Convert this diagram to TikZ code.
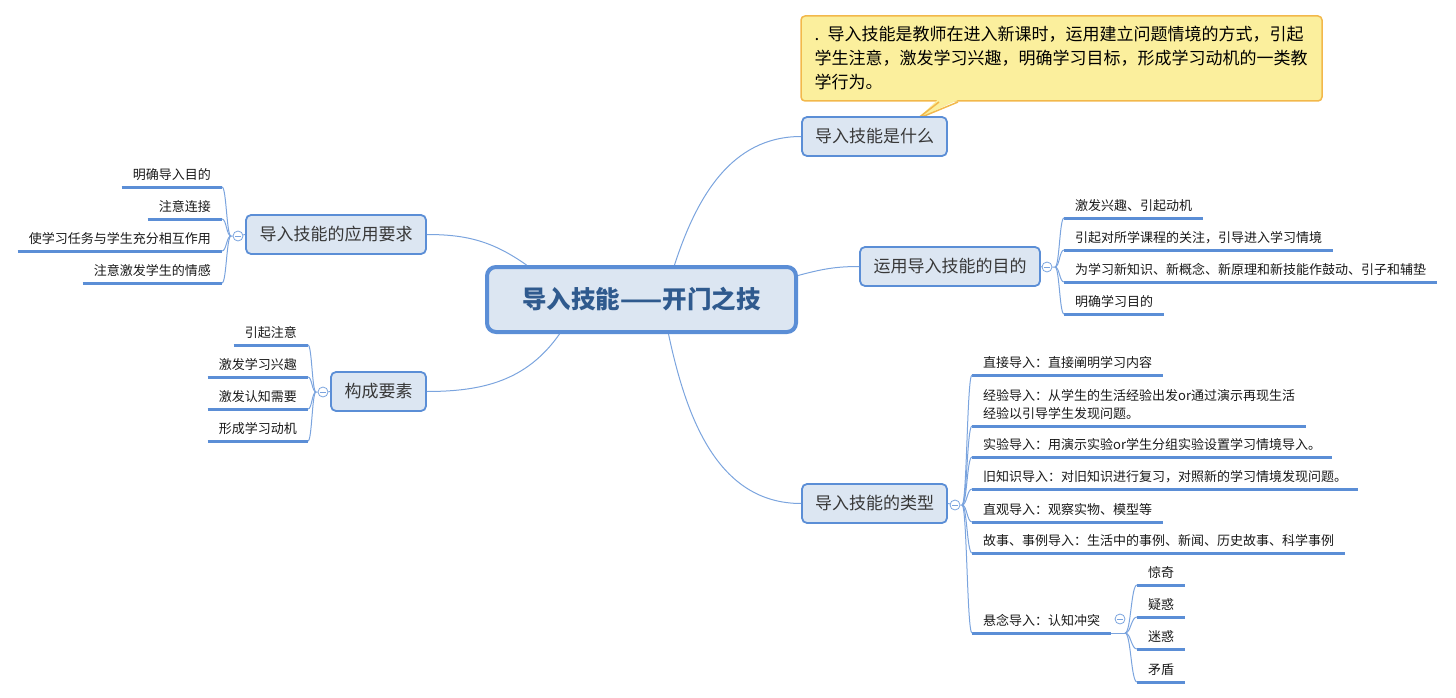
\documentclass[tikz,border=0pt]{standalone}
\usepackage{fontspec}
\setmainfont{Noto Sans CJK SC}
\usetikzlibrary{calc}
\definecolor{mmblue}{HTML}{5B8ED6}
\definecolor{mmfill}{HTML}{DCE6F2}
\definecolor{mmlink}{HTML}{7BA4DE}
\definecolor{mmdark}{HTML}{2F5A8E}
\definecolor{notefill}{HTML}{FBEF9D}
\definecolor{noteedge}{HTML}{F2B84B}

\begin{document}
\begin{tikzpicture}[
    x=1pt,y=-1pt,
    central/.style={draw=mmblue,fill=mmfill,line width=4pt,rounded corners=9pt,minimum width=309pt,minimum height=65pt,inner sep=0pt,text=mmdark,font=\fontsize{24.5}{28}\selectfont\bfseries},
    topic/.style={draw=mmblue,fill=mmfill,line width=1.8pt,rounded corners=5pt,minimum height=39pt,inner sep=0pt,text=black!78,font=\fontsize{17}{20}\selectfont},
    leaf/.style={inner xsep=11pt,inner ysep=4.5pt,text height=10pt,text depth=3pt,text=black!90,font=\fontsize{13}{18}\selectfont},
    leafr/.style={leaf,anchor=south west},
    leafl/.style={leaf,anchor=south east},
    uline/.style={draw=mmblue,line width=3pt},
    link/.style={draw=mmlink,line width=1pt},
    twig/.style={draw=mmlink,line width=1pt,
      to path={let \p1=(\tikztostart), \p2=(\tikztotarget) in
        .. controls ({(\x1+\x2)/2},\y1) and ({(\x1+\x2)/2},\y2) .. (\tikztotarget)}},
    fold/.style={circle,draw=mmlink,fill=white,line width=0.8pt,minimum size=10pt,inner sep=0pt,
      path picture={\draw[mmlink,line width=0.8pt] ([xshift=2pt]path picture bounding box.west) -- ([xshift=-2pt]path picture bounding box.east);}},
    note/.style={draw=noteedge,fill=notefill,line width=1.5pt,rounded corners=4pt,minimum height=85pt,text width=494pt,align=left,inner xsep=13.5pt,font=\fontsize{17}{24}\selectfont}
  ]
    \useasboundingbox (0,0) rectangle (1456,698);

    \node[note] (def) at (1061.5,58.5) {. 导入技能是教师在进入新课时，运用建立问题情境的方式，引起\\学生注意，激发学习兴趣，明确学习目标，形成学习动机的一类教\\学行为。};
    \coordinate (tip) at (917,119);
    \fill[notefill] (938,99.5) -- (tip) -- (959,99.5) -- cycle;
    \draw[noteedge,line width=1.5pt,line join=round] (939,102) -- (tip) -- (958,102);

    \node[central] (central) at (641.5,299.5) {导入技能——开门之技};

    \node[topic,minimum width=145pt] (what) at (874.5,136.5) {导入技能是什么};
    \node[topic,minimum width=180pt] (purpose) at (950,266.5) {运用导入技能的目的};
    \node[topic,minimum width=145pt] (types) at (874.5,503.5) {导入技能的类型};
    \node[topic,minimum width=180pt] (require) at (336,234.5) {导入技能的应用要求};
    \node[topic,minimum width=95pt] (elements) at (378.5,391.5) {构成要素};

    \draw[link] ([xshift=33pt]central.north) to[out=72,in=180] (what.west);
    \draw[link] ([yshift=24pt]central.east) to[out=15,in=180] (purpose.west);
    \draw[link] ([xshift=27pt]central.south) to[out=-78,in=180] (types.west);
    \draw[link] ([xshift=-115pt]central.north) to[out=145,in=0] (require.east);
    \draw[link] ([xshift=-82pt]central.south) to[out=-125,in=0] (elements.east);

    \node[fold] (fPurpose) at (1047,267) {};
    \node[fold] (fTypes) at (955,505) {};
    \node[fold] (fSusp) at (1120,619) {};
    \node[fold] (fRequire) at (238,236) {};
    \node[fold] (fElements) at (323,392) {};
    \coordinate (jPurpose) at (1055,267);
    \coordinate (jTypes) at (962,505);
    \coordinate (jSusp) at (1125,633);
    \coordinate (jRequire) at (231,236);
    \coordinate (jElements) at (316,392);
    \draw[link] (purpose.east) -- (fPurpose) -- (jPurpose);
    \draw[link] (types.east) -- (fTypes) -- (jTypes);
    \draw[link] (require.west) -- (fRequire) -- (jRequire);
    \draw[link] (elements.west) -- (fElements) -- (jElements);

    \foreach \y/\nm/\t in {218/p1/激发兴趣、引起动机,
                          250/p2/引起对所学课程的关注，引导进入学习情境,
                          282/p3/为学习新知识、新概念、新原理和新技能作鼓动、引子和辅垫,
                          314/p4/明确学习目的} {
      \node[leafr] (\nm) at (1064,\y) {\t};
    }

    \foreach \y/\nm/\t in {375/t1/直接导入：直接阐明学习内容,
                          457/t3/实验导入：用演示实验or学生分组实验设置学习情境导入。,
                          489/t4/旧知识导入：对旧知识进行复习，对照新的学习情境发现问题。,
                          522/t5/直观导入：观察实物、模型等,
                          553/t6/故事、事例导入：生活中的事例、新闻、历史故事、科学事例,
                          633/t7/悬念导入：认知冲突} {
      \node[leafr] (\nm) at (972,\y) {\t};
    }
    \node[leafr,align=left] (t2) at (972,426) {经验导入：从学生的生活经验出发or通过演示再现生活\\经验以引导学生发现问题。};

    \foreach \y/\nm/\t in {585/s1/惊奇, 617/s2/疑惑, 649/s3/迷惑, 682/s4/矛盾} {
      \node[leafr] (\nm) at (1137,\y) {\t};
    }

    \foreach \y/\nm/\t in {187/r1/明确导入目的, 219/r2/注意连接,
                          251/r3/使学习任务与学生充分相互作用, 283/r4/注意激发学生的情感} {
      \node[leafl] (\nm) at (222,\y) {\t};
    }

    \foreach \y/\nm/\t in {345/e1/引起注意, 377/e2/激发学习兴趣, 409/e3/激发认知需要, 441/e4/形成学习动机} {
      \node[leafl] (\nm) at (308,\y) {\t};
    }

    \foreach \nm in {p1,p2,p3,p4,t1,t2,t3,t4,t5,t6,t7,s1,s2,s3,s4,r1,r2,r3,r4,e1,e2,e3,e4} {
      \draw[uline] (\nm.south west) -- (\nm.south east);
    }

    \foreach \nm in {p1,p2,p3,p4} \draw[twig] (jPurpose) to (\nm.south west);
    \foreach \nm in {t1,t2,t3,t4,t5,t6,t7} \draw[twig] (jTypes) to (\nm.south west);
    \draw[link] (t7.south east) -- (jSusp);
    \foreach \nm in {s1,s2,s3,s4} \draw[twig] (jSusp) to (\nm.south west);
    \foreach \nm in {r1,r2,r3,r4} \draw[twig] (jRequire) to (\nm.south east);
    \foreach \nm in {e1,e2,e3,e4} \draw[twig] (jElements) to (\nm.south east);
  \end{tikzpicture}
\end{document}
